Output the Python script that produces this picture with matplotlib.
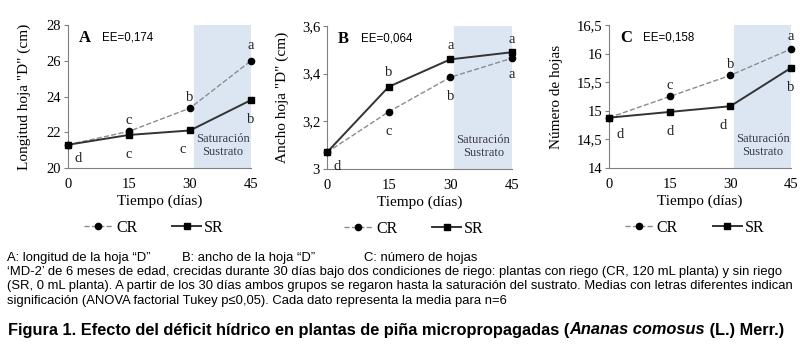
import matplotlib
matplotlib.use("Agg")
import matplotlib.pyplot as plt
from matplotlib.lines import Line2D

# datos
dias = [0, 15, 30, 45]

long_cr = [21.3, 22.05, 23.35, 26.0]
long_sr = [21.3, 21.85, 22.1, 23.8]
long_let_cr = ["", "c", "b", "a"]
long_let_sr = ["d", "c", "c", "b"]

ancho_cr = [3.07, 3.24, 3.385, 3.465]
ancho_sr = [3.07, 3.345, 3.46, 3.49]
ancho_let_cr = ["", "c", "b", "a"]
ancho_let_sr = ["d", "b", "a", "a"]

hojas_cr = [14.88, 15.25, 15.62, 16.08]
hojas_sr = [14.88, 14.98, 15.08, 15.75]
hojas_let_cr = ["", "c", "b", "a"]
hojas_let_sr = ["d", "d", "d", "b"]

paneles = ["A", "B", "C"]
ee = ["EE=0,174", "EE=0,064", "EE=0,158"]
ylabels = ['Longitud hoja "D" (cm)', 'Ancho hoja "D" (cm)', 'Número de hojas']
yticks = [[20, 22, 24, 26, 28], [3.0, 3.2, 3.4, 3.6], [14, 14.5, 15, 15.5, 16, 16.5]]
yticklabels = [["20", "22", "24", "26", "28"], ["3", "3,2", "3,4", "3,6"],
               ["14", "14,5", "15", "15,5", "16", "16,5"]]

serif = "Liberation Serif"
sans = ["Liberation Sans", "DejaVu Sans"]

fig = plt.figure(figsize=(8.08, 3.54), dpi=100)

W, H = 808.0, 354.0
boxes = [(68, 251, 25, 168), (327, 512, 26, 169), (609, 791, 25, 168)]
ylab_x = [31, 289, 563]

series = [(long_cr, long_sr, long_let_cr, long_let_sr),
          (ancho_cr, ancho_sr, ancho_let_cr, ancho_let_sr),
          (hojas_cr, hojas_sr, hojas_let_cr, hojas_let_sr)]

# desplazamientos de las letras (puntos)
off_cr = [[(0, 0), (0, 8), (0, 8), (0, 11)],
          [(0, 0), (0, -14), (0, -14), (0, -12)],
          [(0, 0), (0, 8), (0, 8), (0, 9)]]
off_sr = [[(7, -10), (0, -14), (-5, -14), (0, -14)],
          [(7, -10), (0, 10), (0, 10), (0, 9)],
          [(8, -12), (0, -14), (-5, -14), (0, -14)]]

for i in range(3):
    x0, x1, y0, y1 = boxes[i]
    ax = fig.add_axes([x0 / W, 1 - y1 / H, (x1 - x0) / W, (y1 - y0) / H])
    cr, sr, lcr, lsr = series[i]
    yt = yticks[i]
    ax.set_xlim(0, 45)
    ax.set_ylim(yt[0], yt[-1])
    ax.axvspan(31, 45, color="#dce6f2", zorder=0)
    ax.plot(dias, cr, ls="--", color="#8c8c8c", lw=1, marker="o", ms=4.5,
            mfc="black", mec="black", zorder=3, clip_on=False)
    ax.plot(dias, sr, ls="-", color="#333333", lw=1.4, marker="s", ms=5,
            mfc="black", mec="black", zorder=4, clip_on=False)
    for k in range(4):
        if lcr[k]:
            ax.annotate(lcr[k], (dias[k], cr[k]), xytext=off_cr[i][k],
                        textcoords="offset points", ha="center", va="center",
                        family=serif, fontsize=10.5, color="#222222")
        if lsr[k]:
            ax.annotate(lsr[k], (dias[k], sr[k]), xytext=off_sr[i][k],
                        textcoords="offset points", ha="center", va="center",
                        family=serif, fontsize=10.5, color="#222222")
    ax.text(38, yt[0] + (yt[-1] - yt[0]) * 0.07, "Saturación\nSustrato",
            ha="center", va="bottom", family=serif, fontsize=9,
            color="#3a3a4a", linespacing=1.15)
    ax.text(0.06, 0.965, paneles[i], transform=ax.transAxes, ha="left", va="top",
            family=serif, fontweight="bold", fontsize=12)
    ax.text(0.185, 0.955, ee[i], transform=ax.transAxes, ha="left", va="top",
            family=sans, fontsize=8.3)
    ax.set_xticks(dias)
    ax.set_xticklabels([str(d) for d in dias], family=serif, fontsize=10.5)
    ax.set_yticks(yt)
    ax.set_yticklabels(yticklabels[i], family=serif, fontsize=10.5)
    for s in ["top", "right"]:
        ax.spines[s].set_visible(False)
    for s in ["left", "bottom"]:
        ax.spines[s].set_color("#808080")
        ax.spines[s].set_linewidth(0.8)
    ax.tick_params(axis="y", length=3, color="#808080", pad=2)
    ax.tick_params(axis="x", length=0, pad=7)
    ax.set_xlabel("Tiempo (días)", family=serif, fontsize=11, labelpad=3)
    ax.set_ylabel(ylabels[i], family=serif, fontsize=11)
    ax.yaxis.set_label_coords((ylab_x[i] - x0) / (x1 - x0), 0.5)
    h_cr = Line2D([], [], ls="--", color="#8c8c8c", lw=1, marker="o", ms=4.5,
                  mfc="black", mec="black")
    h_sr = Line2D([], [], ls="-", color="#333333", lw=1.4, marker="s", ms=5,
                  mfc="black", mec="black")
    ax.legend([h_cr, h_sr], ["CR", "SR"], ncol=2, frameon=False,
              loc="center", bbox_to_anchor=(0.47, -0.42),
              prop={"family": serif, "size": 11.5}, handlelength=1.8,
              handletextpad=0.2, columnspacing=2.2)

# texto al pie
cap = ["‘MD-2’ de 6 meses de edad, crecidas durante 30 días bajo dos condiciones de riego: plantas con riego (CR, 120 mL planta) y sin riego",
       "(SR, 0 mL planta). A partir de los 30 días ambos grupos se regaron hasta la saturación del sustrato. Medias con letras diferentes indican",
       "significación (ANOVA factorial Tukey p≤0,05). Cada dato representa la media para n=6"]
fs = 9.35
fig.text(7 / W, 1 - 258 / H, "A: longitud de la hoja “D”", family=sans, fontsize=fs, va="center")
fig.text(182 / W, 1 - 258 / H, "B: ancho de la hoja “D”", family=sans, fontsize=fs, va="center")
fig.text(364 / W, 1 - 258 / H, "C: número de hojas", family=sans, fontsize=fs, va="center")
for j, line in enumerate(cap):
    fig.text(7 / W, 1 - (272 + 14.5 * j) / H, line, family=sans, fontsize=fs, va="center")

# titulo con parte en cursiva
fig.canvas.draw()
r = fig.canvas.get_renderer()
xpos = 8 / W
partes = [("Figura 1. Efecto del déficit hídrico en plantas de piña micropropagadas (", "normal"),
          ("Ananas comosus", "italic"),
          (" (L.) Merr.)", "normal")]
for txt, st in partes:
    t = fig.text(xpos, 1 - 330 / H, txt, family=sans, fontsize=11.8, fontweight="bold",
                 style=st, va="center")
    bb = t.get_window_extent(renderer=r)
    xpos += bb.width / fig.bbox.width

fig.savefig("out.png", dpi=100)
